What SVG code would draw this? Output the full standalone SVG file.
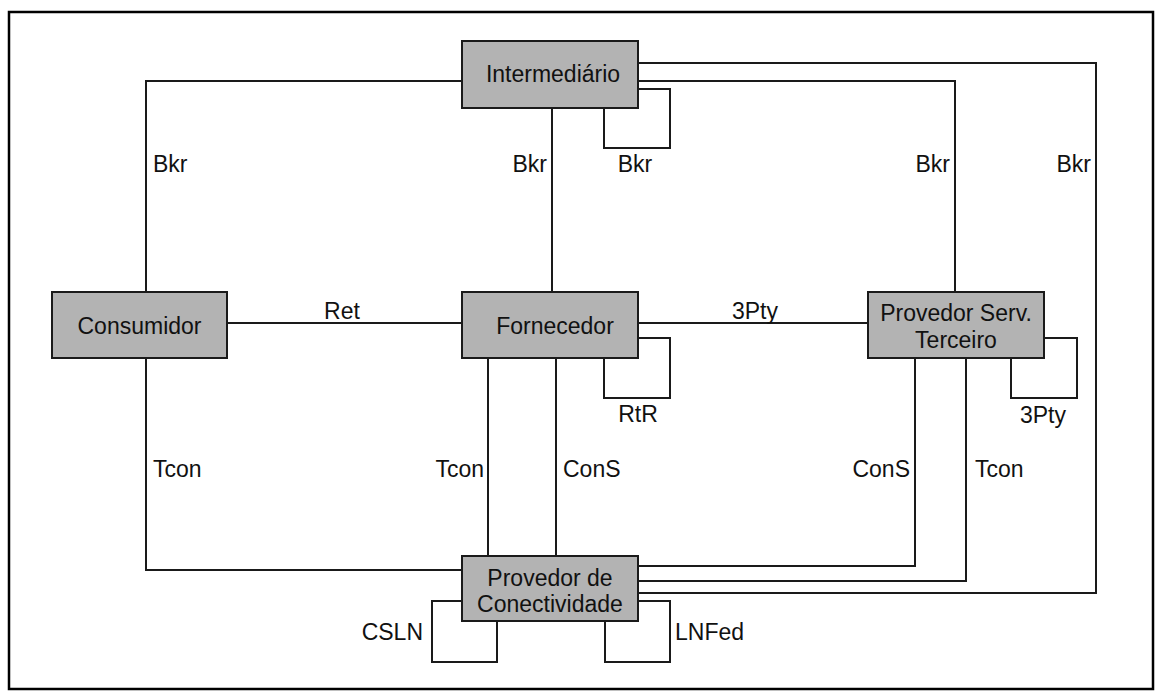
<svg xmlns="http://www.w3.org/2000/svg" width="1162" height="695" viewBox="0 0 1162 695">
<style>
.frame{fill:#ffffff;stroke:#000000;stroke-width:2.5}
.box{fill:#b3b3b3;stroke:#1a1a1a;stroke-width:2}
.c{fill:none;stroke:#1a1a1a;stroke-width:2}
text{font-family:"Liberation Sans",Arial,sans-serif;font-size:23px;fill:#111111}
.nt{text-anchor:middle}
.m{text-anchor:middle}
.e{text-anchor:end}
</style>
<rect class="frame" x="9" y="12" width="1144" height="677"/>
<g id="connectors">
<path class="c" d="M146,292 V81 H462"/>
<path class="c" d="M552,108 V292"/>
<path class="c" d="M604,108 V148 H670 V89 H638"/>
<path class="c" d="M638,81 H955 V292"/>
<path class="c" d="M638,63 H1096 V593 H638"/>
<path class="c" d="M227,323 H462"/>
<path class="c" d="M638,323 H868"/>
<path class="c" d="M604,358 V398 H670 V338 H638"/>
<path class="c" d="M1011,358 V398 H1077 V338 H1044"/>
<path class="c" d="M146,358 V570 H462"/>
<path class="c" d="M488,358 V556"/>
<path class="c" d="M556,358 V556"/>
<path class="c" d="M915,358 V566 H638"/>
<path class="c" d="M966,358 V581 H638"/>
<path class="c" d="M462,601 H432 V662 H497 V621"/>
<path class="c" d="M605,621 V662 H670 V601 H638"/>
<text x="153" y="172">Bkr</text>
<text class="e" x="547" y="172">Bkr</text>
<text class="m" x="635" y="172">Bkr</text>
<text class="e" x="950" y="172">Bkr</text>
<text class="e" x="1091" y="172">Bkr</text>
<text class="m" x="342" y="319">Ret</text>
<text class="m" x="755" y="319">3Pty</text>
<text class="m" x="638" y="422">RtR</text>
<text class="m" x="1043" y="423">3Pty</text>
<text x="153" y="477">Tcon</text>
<text class="e" x="484" y="477">Tcon</text>
<text x="563" y="477">ConS</text>
<text class="e" x="910" y="477">ConS</text>
<text x="975" y="477">Tcon</text>
<text class="e" x="423" y="640">CSLN</text>
<text x="675" y="640">LNFed</text>
</g>
<g id="intermediario">
<rect class="box" x="462" y="41" width="176" height="67"/>
<text class="nt" x="553" y="82">Intermediário</text>
</g>
<g id="consumidor">
<rect class="box" x="52" y="292" width="175" height="66"/>
<text class="nt" x="139.5" y="334">Consumidor</text>
</g>
<g id="fornecedor">
<rect class="box" x="462" y="292" width="176" height="66"/>
<text class="nt" x="555" y="334">Fornecedor</text>
</g>
<g id="provedor-serv-terceiro">
<rect class="box" x="868" y="292" width="176" height="66"/>
<text class="nt" x="956" y="321">Provedor Serv.</text>
<text class="nt" x="956" y="348">Terceiro</text>
</g>
<g id="provedor-conectividade">
<rect class="box" x="462" y="556" width="176" height="65"/>
<text class="nt" x="550" y="586">Provedor de</text>
<text class="nt" x="550" y="612">Conectividade</text>
</g>
</svg>
